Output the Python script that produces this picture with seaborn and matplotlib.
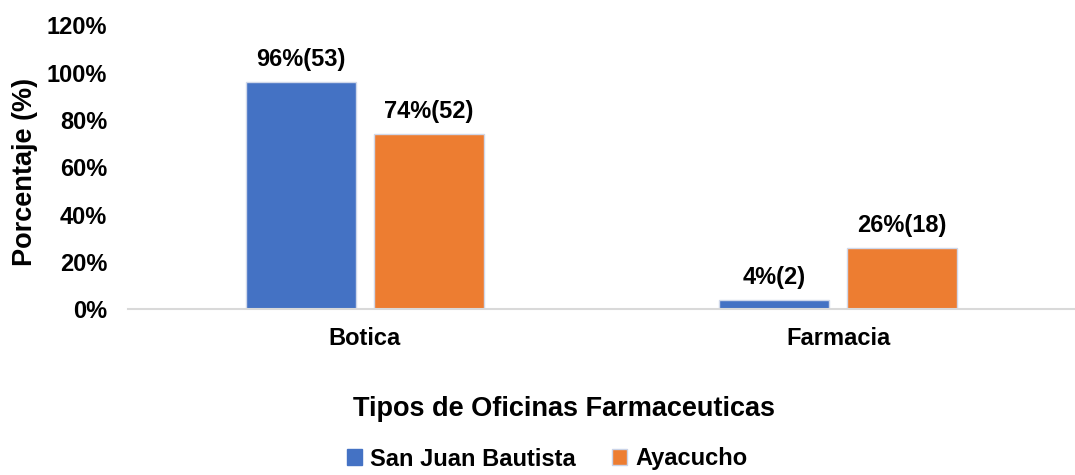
import matplotlib
matplotlib.use("Agg")
import matplotlib.pyplot as plt
import seaborn as sns
import pandas as pd
from matplotlib.patches import Patch
from matplotlib.ticker import PercentFormatter

categories = ["Botica", "Farmacia"]
series = ["San Juan Bautista", "Ayacucho"]
sjb_values = [96, 4]
aya_values = [74, 26]
sjb_counts = [53, 2]
aya_counts = [52, 18]
colors = ["#4472C4", "#ED7D31"]

df = pd.DataFrame({
    "tipo": categories * 2,
    "serie": [series[0]] * 2 + [series[1]] * 2,
    "valor": sjb_values + aya_values,
    "n": sjb_counts + aya_counts,
})

sns.set_theme(style="white")
plt.rcParams["font.family"] = ["Liberation Sans", "DejaVu Sans"]
plt.rcParams["font.weight"] = "bold"
plt.rcParams["text.color"] = "#000000"

fig = plt.figure(figsize=(10.75, 4.75), dpi=100)
ax = fig.add_axes([0.119, 0.349, 0.881, 0.598])

sns.barplot(data=df, x="tipo", y="valor", hue="serie", palette=colors,
            order=categories, hue_order=series, width=0.54, gap=0.14,
            saturation=1, edgecolor="#d0d8ea", linewidth=1, ax=ax, legend=False)

for cont, vals, cnts in zip(ax.containers, [sjb_values, aya_values], [sjb_counts, aya_counts]):
    labels = [f"{v}%({c})" for v, c in zip(vals, cnts)]
    ax.bar_label(cont, labels=labels, padding=8, fontsize=17, fontweight="bold", color="#000000")

ax.set_ylim(0, 120)
ax.set_xlim(-0.5, 1.5)
ax.set_yticks(range(0, 121, 20))
ax.yaxis.set_major_formatter(PercentFormatter(decimals=0))
ax.tick_params(axis="y", labelsize=17, length=0, pad=15)
ax.tick_params(axis="x", labelsize=17, length=0, pad=13)
for lbl in ax.get_xticklabels() + ax.get_yticklabels():
    lbl.set_fontweight("bold")
    lbl.set_color("#000000")

for s in ["top", "right", "left"]:
    ax.spines[s].set_visible(False)
ax.spines["bottom"].set_color("#d9d9d9")
ax.spines["bottom"].set_linewidth(1.5)

ax.set_xlabel("")
ax.set_ylabel("")
fig.text(25 / 1075, 1 - 172 / 475, "Porcentaje (%)", rotation=90, ha="center", va="center",
         fontsize=19.5, fontweight="bold", color="#000000")
fig.text(564 / 1075, 1 - 409 / 475, "Tipos de Oficinas Farmaceuticas", ha="center", va="center",
         fontsize=19.5, fontweight="bold", color="#000000")

handles = [Patch(facecolor=colors[0], edgecolor=colors[0]),
           Patch(facecolor=colors[1], edgecolor="#c9d3e8")]
leg = fig.legend(handles, series, loc="center", bbox_to_anchor=(547 / 1075, 1 - 459 / 475),
                 ncol=2, frameon=False, prop={"weight": "bold", "size": 17},
                 handlelength=0.65, handleheight=0.65, handletextpad=0.35, columnspacing=1.5)
for t in leg.get_texts():
    t.set_color("#000000")

fig.savefig("out.png", dpi=100)
